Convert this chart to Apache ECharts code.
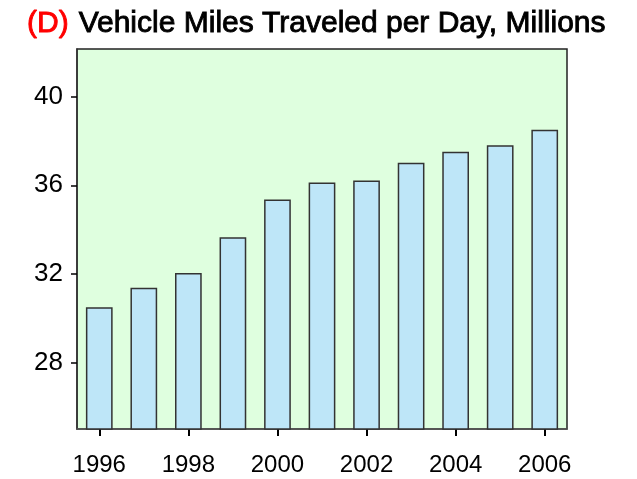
<!DOCTYPE html>
<html lang="en">

<head>
    <meta charset="UTF-8">
    <title>Vehicle Miles Traveled per Day</title>
    <style>
        body { margin: 0; background: #fff; }
    </style>
</head>

<body>
    <div id="main" style="width: 637px;height:479px"></div>

    <script src="https://cdn.jsdelivr.net/npm/echarts@6/dist/echarts.min.js"></script>
    <script>
        const years = ['1996', '1997', '1998', '1999', '2000', '2001', '2002', '2003', '2004', '2005', '2006'];
        const milesPerDay = [30.5, 31.37, 32.04, 33.65, 35.36, 36.12, 36.22, 37.02, 37.51, 37.81, 38.5];
        const yTicks = [28, 32, 36, 40];

        const chart = echarts.init(document.getElementById('main'));
        const font = '"Liberation Sans", Arial, sans-serif';

        const option = {
            animation: false,
            title: {
                text: '{d|(D)}  {t|Vehicle Miles Traveled per Day, Millions}',
                left: 22,
                top: 4,
                textStyle: {
                    fontWeight: 'normal',
                    rich: {
                        d: { color: '#ff0000', fontSize: 30, fontWeight: 'normal', fontFamily: font, textBorderColor: '#ff0000', textBorderWidth: 0.9 },
                        t: { color: '#000', fontSize: 30, fontWeight: 'normal', fontFamily: font, textBorderColor: '#000', textBorderWidth: 0.9 }
                    }
                }
            },
            grid: {
                left: 77,
                right: 70,
                top: 49,
                bottom: 50,
                show: true,
                backgroundColor: '#dfffdf',
                borderColor: '#222',
                borderWidth: 1.5
            },
            xAxis: {
                type: 'category',
                data: years,
                axisLine: { lineStyle: { color: '#555', width: 1.5 } },
                axisTick: {
                    show: true,
                    alignWithLabel: true,
                    interval: 1,
                    length: 7,
                    lineStyle: { color: '#000', width: 2 }
                },
                axisLabel: {
                    interval: 1,
                    margin: 24,
                    color: '#000',
                    fontSize: 24,
                    fontFamily: font
                }
            },
            yAxis: {
                type: 'value',
                min: 25,
                max: 42.15,
                splitLine: { show: false },
                axisLine: { show: true, lineStyle: { color: '#333', width: 1.5 } },
                axisTick: {
                    show: true,
                    length: 6,
                    customValues: yTicks,
                    lineStyle: { color: '#000', width: 1.5 }
                },
                axisLabel: {
                    customValues: yTicks,
                    margin: 14,
                    color: '#000',
                    fontSize: 26,
                    fontFamily: font
                }
            },
            series: [{
                type: 'bar',
                data: milesPerDay,
                barWidth: '60%',
                itemStyle: {
                    color: '#bee6f8',
                    borderColor: '#333',
                    borderWidth: 1.5
                }
            }]
        };

        chart.setOption(option);
    </script>
</body>

</html>
